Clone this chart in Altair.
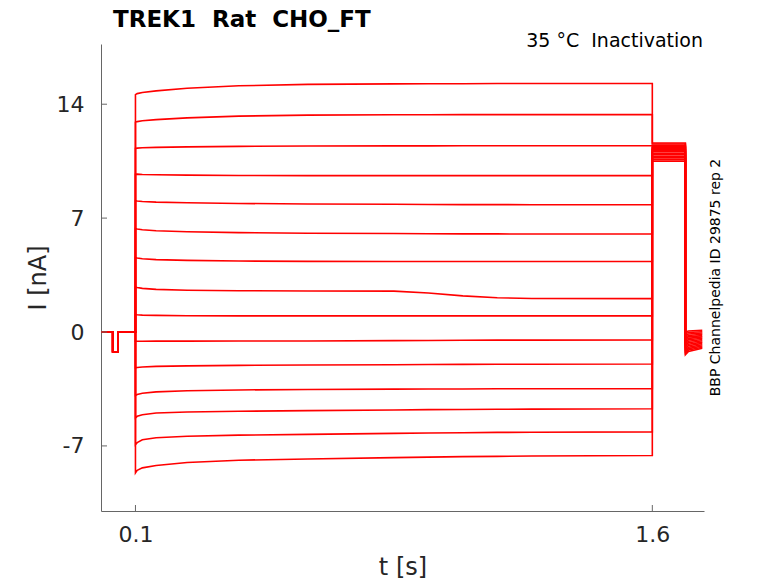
import altair as alt
import pandas as pd

# ---- data ----
hold_t = [0.0, 0.034, 0.034, 0.049, 0.049, 0.1]
hold_v = [0.0, 0.0, -1.21, -1.21, 0.0, 0.0]

step_t = [0.1, 0.105, 0.12, 0.16, 0.25, 0.4, 0.6, 0.85, 0.95, 1.05, 1.15, 1.25, 1.6]
tr01 = [14.59, 14.65, 14.72, 14.82, 14.98, 15.13, 15.22, 15.25, 15.26, 15.26, 15.27, 15.27, 15.27]
tr02 = [12.89, 12.93, 12.98, 13.05, 13.16, 13.27, 13.33, 13.35, 13.35, 13.36, 13.36, 13.36, 13.36]
tr03 = [11.28, 11.30, 11.32, 11.35, 11.38, 11.41, 11.43, 11.44, 11.44, 11.45, 11.45, 11.45, 11.45]
tr04 = [9.69, 9.70, 9.68, 9.66, 9.64, 9.62, 9.61, 9.61, 9.61, 9.61, 9.61, 9.61, 9.61]
tr05 = [8.07, 8.05, 8.02, 7.98, 7.94, 7.90, 7.87, 7.85, 7.84, 7.83, 7.83, 7.82, 7.82]
tr06 = [6.36, 6.33, 6.28, 6.22, 6.16, 6.11, 6.07, 6.05, 6.04, 6.03, 6.03, 6.02, 6.02]
tr07 = [4.58, 4.55, 4.50, 4.45, 4.40, 4.36, 4.34, 4.33, 4.33, 4.33, 4.33, 4.33, 4.33]
tr08 = [2.77, 2.74, 2.68, 2.62, 2.57, 2.54, 2.52, 2.51, 2.40, 2.22, 2.11, 2.06, 2.05]
tr09 = [1.07, 1.06, 1.04, 1.02, 1.00, 0.99, 0.99, 0.99, 0.99, 0.99, 0.99, 0.99, 0.99]
tr10 = [-0.57, -0.57, -0.57, -0.56, -0.56, -0.55, -0.55, -0.53, -0.52, -0.51, -0.50, -0.50, -0.49]
tr11 = [-2.20, -2.18, -2.15, -2.11, -2.08, -2.05, -2.03, -2.01, -2.00, -1.99, -1.98, -1.98, -1.97]
tr12 = [-3.90, -3.84, -3.76, -3.68, -3.61, -3.56, -3.53, -3.51, -3.50, -3.50, -3.49, -3.49, -3.49]
tr13 = [-5.28, -5.18, -5.08, -4.98, -4.92, -4.87, -4.83, -4.79, -4.77, -4.76, -4.75, -4.74, -4.72]
tr14 = [-6.92, -6.80, -6.62, -6.50, -6.41, -6.34, -6.29, -6.23, -6.21, -6.19, -6.17, -6.16, -6.14]
tr15 = [-8.66, -8.50, -8.35, -8.20, -8.02, -7.88, -7.80, -7.72, -7.69, -7.66, -7.64, -7.62, -7.59]
traces = [tr01, tr02, tr03, tr04, tr05, tr06, tr07, tr08, tr09, tr10, tr11, tr12, tr13, tr14, tr15]

tail_t = [1.6, 1.696, 1.696, 1.705, 1.745]
tail_high = [11.62, 11.55, 11.48, 11.42, 11.36, 11.30, 11.22, 11.15, 11.08, 10.98, 10.90, 10.80, 10.70, 10.60, 10.50]
tail_low_a = [0.00, -0.10, -0.20, -0.30, -0.40, -0.50, -0.60, -0.70, -0.80, -0.90, -1.00, -1.10, -1.20, -1.30, -1.40]
tail_low_b = [0.06, -0.03, -0.12, -0.21, -0.30, -0.39, -0.48, -0.57, -0.66, -0.75, -0.84, -0.93, -1.02, -1.11, -1.20]
tail_low_c = [0.10, 0.02, -0.06, -0.14, -0.22, -0.30, -0.38, -0.46, -0.54, -0.62, -0.70, -0.78, -0.86, -0.94, -1.00]

x_ticks = [0.1, 1.6]
y_ticks = [-7, 0, 7, 14]

NB = "\u00a0"
title_text = "TREK1" + NB * 2 + "Rat" + NB * 2 + "CHO_FT"
sub_text = "35" + NB + "°C" + NB * 2 + "Inactivation"
side_text = "BBP Channelpedia ID 29875 rep 2"

# ---- build table ----
rows = []
for k, tr in enumerate(traces):
    ts = list(hold_t) + list(step_t) + list(tail_t)
    vs = (list(hold_v) + list(tr) +
          [tail_high[k], tail_high[k], tail_low_a[k], tail_low_b[k], tail_low_c[k]])
    for i, (t, v) in enumerate(zip(ts, vs)):
        rows.append({"trace": k, "i": i, "t": t, "v": v})
df = pd.DataFrame(rows)

W, H = 603, 467
xs = alt.Scale(domain=[0, 1.75], nice=False, zero=False)
ys = alt.Scale(domain=[-11.0, 17.7], nice=False, zero=False)
FONT = "DejaVu Sans"
AX = "#666666"
TXT = "#262626"

lines = alt.Chart(df).mark_line(color="#ff0000", strokeWidth=1.6, clip=True).encode(
    x=alt.X("t:Q", scale=xs, axis=alt.Axis(
        values=x_ticks, labelExpr="toString(datum.value)", title="t [s]", ticks=False, grid=False,
        domainColor=AX, labelFontSize=22, labelColor=TXT, labelPadding=13,
        titleFontSize=24, titleFontWeight="normal", titleColor=TXT, titlePadding=10,
        labelFont=FONT, titleFont=FONT)),
    y=alt.Y("v:Q", scale=ys, axis=alt.Axis(
        values=y_ticks, labelExpr="toString(datum.value)", title="I [nA]", ticks=False, grid=False,
        domainColor=AX, labelFontSize=22, labelColor=TXT, labelPadding=17,
        titleFontSize=24, titleFontWeight="normal", titleColor=TXT, titlePadding=6,
        labelFont=FONT, titleFont=FONT)),
    detail="trace:N",
    order="i:Q",
)

xt = alt.Chart(pd.DataFrame({"t": x_ticks})).mark_rule(color=AX, strokeWidth=1).encode(
    x=alt.X("t:Q", scale=xs), y=alt.value(H), y2=alt.value(H - 6))
yt = alt.Chart(pd.DataFrame({"v": y_ticks})).mark_rule(color=AX, strokeWidth=1).encode(
    y=alt.Y("v:Q", scale=ys), x=alt.value(0), x2=alt.value(6))

title = alt.Chart(pd.DataFrame({"s": [title_text]})).mark_text(
    font=FONT, fontSize=23, fontWeight="bold", align="left", baseline="alphabetic", color="#000000"
).encode(text="s:N", x=alt.value(12), y=alt.value(-17))

sub = alt.Chart(pd.DataFrame({"s": [sub_text]})).mark_text(
    font=FONT, fontSize=19, align="right", baseline="alphabetic", color="#000000"
).encode(text="s:N", x=alt.value(602), y=alt.value(3))

side = alt.Chart(pd.DataFrame({"s": [side_text]})).mark_text(
    font=FONT, fontSize=14, align="center", baseline="middle", angle=270, color="#000000"
).encode(text="s:N", x=alt.value(615), y=alt.value(H / 2))

chart = alt.layer(lines, xt, yt, title, sub, side).properties(
    width=W, height=H,
    autosize=alt.AutoSizeParams(type="none"),
    padding={"left": 93, "top": 36, "right": 66, "bottom": 70},
).configure(background="white").configure_view(stroke=None)

chart.save("out.html", embed_options={"renderer": "svg", "actions": False})
